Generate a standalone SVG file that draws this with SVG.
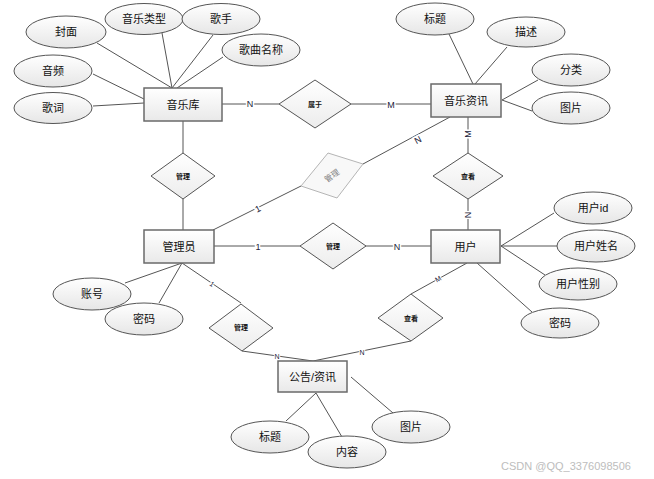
<svg xmlns="http://www.w3.org/2000/svg" width="654" height="479" viewBox="0 0 654 479">
<defs>
<linearGradient id="gBox" x1="0" y1="0" x2="0" y2="1"><stop offset="0" stop-color="#ffffff"/><stop offset="1" stop-color="#e9e9e9"/></linearGradient>
<linearGradient id="gEll" x1="0" y1="0" x2="0" y2="1"><stop offset="0" stop-color="#ffffff"/><stop offset="1" stop-color="#e6e6e6"/></linearGradient>
<linearGradient id="gDia" x1="0" y1="0" x2="0" y2="1"><stop offset="0" stop-color="#ffffff"/><stop offset="1" stop-color="#ececec"/></linearGradient>
<style>
.box{fill:url(#gBox);stroke:#6a6a6a;stroke-width:1.5}
.ell{fill:url(#gEll);stroke:#555;stroke-width:1}
.dia{fill:url(#gDia);stroke:#555;stroke-width:1}
.t{font-family:"Liberation Sans","Noto Sans CJK SC",sans-serif;font-size:11px;fill:#111;text-anchor:middle;dominant-baseline:central}
.ts{font-family:"Liberation Sans","Noto Sans CJK SC",sans-serif;font-size:7px;font-weight:bold;fill:#111;text-anchor:middle;dominant-baseline:central}
.ln{stroke:#555;stroke-width:1;fill:none}
.lb{font-family:"Liberation Sans","Noto Sans CJK SC",sans-serif;font-size:9px;fill:#1a1a3a;text-anchor:middle;dominant-baseline:central;stroke:#fff;stroke-width:3;paint-order:stroke}
.lbs{font-family:"Liberation Sans",sans-serif;font-size:7px;fill:#1a1a3a;text-anchor:middle;dominant-baseline:central;stroke:#fff;stroke-width:2;paint-order:stroke}
</style>
</defs>
<rect width="654" height="479" fill="#fff"/>
<g id="connectors">
<line class="ln" x1="97" y1="43" x2="172" y2="88"/>
<line class="ln" x1="162" y1="33" x2="172" y2="88"/>
<line class="ln" x1="213" y1="35" x2="172" y2="88"/>
<line class="ln" x1="223" y1="57" x2="177" y2="88"/>
<line class="ln" x1="93" y1="74" x2="144" y2="99"/>
<line class="ln" x1="93" y1="106" x2="144" y2="103"/>
<line class="ln" x1="222" y1="104" x2="279" y2="104"/>
<line class="ln" x1="351" y1="104" x2="431" y2="104"/>
<line class="ln" x1="449" y1="34" x2="473" y2="84"/>
<line class="ln" x1="507" y1="47" x2="475" y2="84"/>
<line class="ln" x1="538" y1="80" x2="502" y2="100"/>
<line class="ln" x1="532" y1="111" x2="502" y2="100"/>
<line class="ln" x1="468" y1="117" x2="468" y2="153"/>
<line class="ln" x1="468" y1="199" x2="468" y2="230"/>
<line class="ln" x1="450" y1="117" x2="363" y2="164"/>
<line class="ln" x1="301" y1="186" x2="213" y2="230"/>
<line class="ln" x1="183" y1="121" x2="183" y2="153"/>
<line class="ln" x1="183" y1="199" x2="183" y2="230"/>
<line class="ln" x1="213" y1="246" x2="300" y2="246"/>
<line class="ln" x1="365" y1="246" x2="431" y2="246"/>
<line class="ln" x1="125" y1="283" x2="182" y2="263"/>
<line class="ln" x1="159" y1="303" x2="182" y2="263"/>
<line class="ln" x1="182" y1="263" x2="241" y2="303"/>
<line class="ln" x1="242" y1="351" x2="313" y2="361"/>
<line class="ln" x1="313" y1="361" x2="411" y2="341"/>
<line class="ln" x1="411" y1="294" x2="467" y2="263"/>
<line class="ln" x1="501" y1="246" x2="554" y2="213"/>
<line class="ln" x1="501" y1="246" x2="557" y2="246" stroke-width="1.5"/>
<line class="ln" x1="501" y1="246" x2="545" y2="275"/>
<line class="ln" x1="477" y1="263" x2="532" y2="312"/>
<line class="ln" x1="286" y1="421" x2="316" y2="393"/>
<line class="ln" x1="342" y1="437" x2="316" y2="393"/>
<line class="ln" x1="393" y1="413" x2="351" y2="377"/>
<text class="lb" x="250" y="104">N</text>
<text class="lb" x="391" y="105">M</text>
<text class="lb" x="468" y="134" transform="rotate(-90 468 134)">M</text>
<text class="lb" x="468" y="215" transform="rotate(90 468 215)">N</text>
<text class="lb" x="418" y="140" transform="rotate(-28 418 140)">N</text>
<text class="lb" x="258" y="209" transform="rotate(-27 258 209)">1</text>
<text class="lb" x="258" y="247">1</text>
<text class="lb" x="397" y="247">N</text>
<text class="lbs" x="212" y="284" transform="rotate(34 212 284)">1</text>
<text class="lbs" x="277" y="356">N</text>
<text class="lbs" x="362" y="352">N</text>
<text class="lbs" x="438" y="279" transform="rotate(-29 438 279)">M</text>
</g>
<g id="n-musiclib"><rect class="box" x="144" y="88" width="78" height="33"/><text class="t" x="183" y="104.5">音乐库</text></g>
<g id="n-musicinfo"><rect class="box" x="431" y="84" width="70" height="33"/><text class="t" x="466" y="100.5">音乐资讯</text></g>
<g id="n-admin"><rect class="box" x="144" y="230" width="70" height="33"/><text class="t" x="179" y="246.5">管理员</text></g>
<g id="n-user"><rect class="box" x="431" y="230" width="69" height="33"/><text class="t" x="465.5" y="246.5">用户</text></g>
<g id="n-notice"><rect class="box" x="278" y="361" width="69" height="31"/><text class="t" x="312.5" y="376.5">公告/资讯</text></g>
<g id="d-belong"><polygon class="dia" points="279,104 315,80 351,104 315,128"/><text class="ts" x="315" y="104">属于</text></g>
<g id="d-manage1"><polygon class="dia" points="151,176 183,153 215,176 183,199"/><text class="ts" x="183" y="176">管理</text></g>
<g id="d-view1"><polygon class="dia" points="433,176 468,153 503,176 468,199"/><text class="ts" x="468" y="176">查看</text></g>
<g id="d-manage2"><polygon class="dia" points="300,246 333,223 366,246 333,269"/><text class="ts" x="333" y="246">管理</text></g>
<g id="d-manage3"><polygon points="301,186 328,153 363,164 337,198" fill="#f8f8f8" stroke="#b5b5b5" stroke-width="1"/><text class="ts" x="332" y="176" style="fill:#808080;font-weight:normal;font-size:8px" transform="rotate(-35 332 176)">管理</text></g>
<g id="d-manage4"><polygon class="dia" points="209,328 241,304 273,328 242,351"/><text class="ts" x="241" y="327">管理</text></g>
<g id="d-view2"><polygon class="dia" points="378,318 411,294 443,318 411,341"/><text class="ts" x="411" y="318">查看</text></g>
<g id="a-cover"><ellipse class="ell" cx="66" cy="32" rx="40" ry="16"/><text class="t" x="66" y="32">封面</text></g>
<g id="a-type"><ellipse class="ell" cx="144" cy="19" rx="39" ry="15.5"/><text class="t" x="144" y="19">音乐类型</text></g>
<g id="a-singer"><ellipse class="ell" cx="221" cy="19" rx="39" ry="15.5"/><text class="t" x="221" y="19">歌手</text></g>
<g id="a-songname"><ellipse class="ell" cx="261" cy="50" rx="39" ry="16"/><text class="t" x="261" y="50">歌曲名称</text></g>
<g id="a-audio"><ellipse class="ell" cx="53" cy="71" rx="39" ry="16"/><text class="t" x="53" y="71">音频</text></g>
<g id="a-lyric"><ellipse class="ell" cx="53" cy="108" rx="39" ry="15.5"/><text class="t" x="53" y="108">歌词</text></g>
<g id="a-title1"><ellipse class="ell" cx="435" cy="19" rx="39" ry="16"/><text class="t" x="435" y="19">标题</text></g>
<g id="a-desc"><ellipse class="ell" cx="526" cy="32" rx="39" ry="15"/><text class="t" x="526" y="32">描述</text></g>
<g id="a-cat"><ellipse class="ell" cx="571" cy="70" rx="39" ry="16"/><text class="t" x="571" y="70">分类</text></g>
<g id="a-pic1"><ellipse class="ell" cx="571" cy="108" rx="39" ry="16"/><text class="t" x="571" y="108">图片</text></g>
<g id="a-uid"><ellipse class="ell" cx="593" cy="208" rx="39" ry="16"/><text class="t" x="593" y="208">用户id</text></g>
<g id="a-uname"><ellipse class="ell" cx="596" cy="246" rx="39" ry="16"/><text class="t" x="596" y="246">用户姓名</text></g>
<g id="a-usex"><ellipse class="ell" cx="578" cy="284" rx="39" ry="16"/><text class="t" x="578" y="284">用户性别</text></g>
<g id="a-upwd"><ellipse class="ell" cx="560" cy="323" rx="39" ry="15"/><text class="t" x="560" y="323">密码</text></g>
<g id="a-account"><ellipse class="ell" cx="92" cy="294" rx="39" ry="16"/><text class="t" x="92" y="294">账号</text></g>
<g id="a-apwd"><ellipse class="ell" cx="144" cy="319" rx="39" ry="16"/><text class="t" x="144" y="319">密码</text></g>
<g id="a-title2"><ellipse class="ell" cx="270" cy="437" rx="39" ry="16"/><text class="t" x="270" y="437">标题</text></g>
<g id="a-content"><ellipse class="ell" cx="347" cy="452" rx="39" ry="16"/><text class="t" x="347" y="452">内容</text></g>
<g id="a-pic2"><ellipse class="ell" cx="411" cy="427" rx="39" ry="16"/><text class="t" x="411" y="427">图片</text></g>
<text x="566" y="466" font-family="Liberation Sans, sans-serif" font-size="11" fill="#bdbdbd" text-anchor="middle" dominant-baseline="central">CSDN @QQ_3376098506</text>
</svg>
